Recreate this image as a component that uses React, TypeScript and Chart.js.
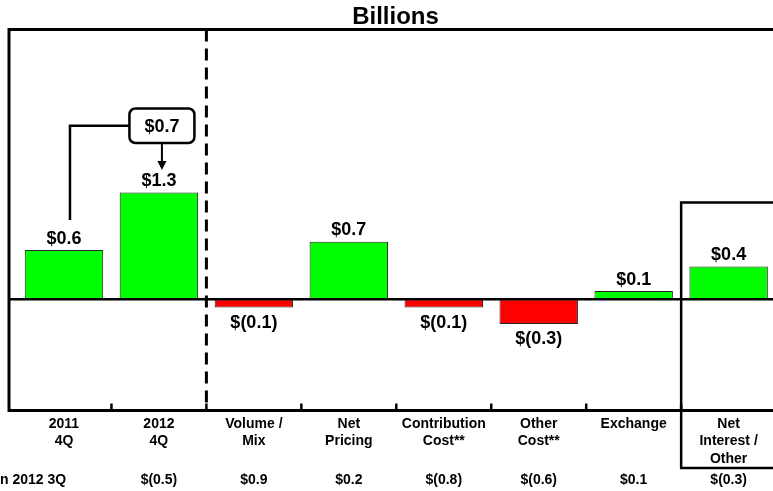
import React, { useEffect, useRef } from "react";
import { Chart, registerables } from "chart.js";

Chart.register(...registerables);

const categories: string[][] = [
  ["2011", "4Q"],
  ["2012", "4Q"],
  ["Volume /", "Mix"],
  ["Net", "Pricing"],
  ["Contribution", "Cost**"],
  ["Other", "Cost**"],
  ["Exchange"],
  ["Net", "Interest /", "Other"],
];
const values: number[] = [0.6, 1.3, -0.1, 0.7, -0.1, -0.3, 0.1, 0.4];
const changeVs3Q: string[] = ["", "$(0.5)", "$0.9", "$0.2", "$(0.8)", "$(0.6)", "$0.1", "$(0.3)"];
const rowLabel = "n 2012 3Q";
const titleText = "Billions";

const FONT = '"Liberation Sans", Arial, sans-serif';

function fmt(v: number): string {
  const a = Math.abs(v).toFixed(1);
  return v < 0 ? `$(${a})` : `$${a}`;
}

const overlay = {
  id: "overlay",
  afterDatasetsDraw(chart: any) {
    const { ctx, chartArea, scales } = chart;
    const xs = scales.x;
    const ys = scales.y;
    const W = chart.width;
    const n = categories.length;
    const step = xs.getPixelForValue(1) - xs.getPixelForValue(0);
    const boundary = (i: number) => xs.getPixelForValue(i) + step / 2;
    const zeroY = ys.getPixelForValue(0);
    const top = chartArea.top;
    const bottom = chartArea.bottom;
    const leftX = 9;

    ctx.save();
    ctx.strokeStyle = "#000";
    ctx.fillStyle = "#000";
    ctx.lineCap = "butt";

    // title
    ctx.font = `bold 24px ${FONT}`;
    ctx.textAlign = "center";
    ctx.textBaseline = "alphabetic";
    ctx.fillText(titleText, 395.5, 24);

    // plot frame
    ctx.lineWidth = 3;
    ctx.beginPath();
    ctx.moveTo(W, top);
    ctx.lineTo(leftX, top);
    ctx.lineTo(leftX, bottom);
    ctx.lineTo(W, bottom);
    ctx.stroke();

    // zero line
    ctx.lineWidth = 2.5;
    ctx.beginPath();
    ctx.moveTo(leftX, zeroY);
    ctx.lineTo(W, zeroY);
    ctx.stroke();

    // ticks on bottom axis
    ctx.lineWidth = 2.5;
    for (let i = 0; i < n - 1; i++) {
      const bx = boundary(i);
      ctx.beginPath();
      ctx.moveTo(bx, bottom - 7);
      ctx.lineTo(bx, bottom);
      ctx.stroke();
    }

    // dashed separator
    ctx.lineWidth = 3;
    ctx.setLineDash([12, 7]);
    ctx.beginPath();
    ctx.moveTo(boundary(1), top);
    ctx.lineTo(boundary(1), bottom);
    ctx.stroke();
    ctx.setLineDash([]);

    // box around last category
    const bx7 = boundary(n - 2);
    ctx.lineWidth = 2.5;
    ctx.beginPath();
    ctx.moveTo(W, 202.5);
    ctx.lineTo(bx7, 202.5);
    ctx.lineTo(bx7, 468);
    ctx.lineTo(W, 468);
    ctx.stroke();

    // value labels
    ctx.font = `bold 18px ${FONT}`;
    ctx.textAlign = "center";
    ctx.textBaseline = "middle";
    values.forEach((v, i) => {
      const cx = xs.getPixelForValue(i);
      const py = ys.getPixelForValue(v);
      if (v >= 0) ctx.fillText(fmt(v), cx, py - 11.5);
      else ctx.fillText(fmt(v), cx, py + 15);
    });

    // callout from 2011 4Q to 2012 4Q
    const c0 = xs.getPixelForValue(0);
    const c1 = xs.getPixelForValue(1);
    const lineX = c0 + 6;
    const boxL = c1 - 29.5;
    const boxR = c1 + 35.5;
    const boxT = 108.5;
    const boxB = 143;
    const midY = (boxT + boxB) / 2;
    ctx.lineWidth = 2.5;
    ctx.beginPath();
    ctx.moveTo(lineX, ys.getPixelForValue(values[0]) - 30);
    ctx.lineTo(lineX, midY);
    ctx.lineTo(boxL, midY);
    ctx.stroke();
    ctx.beginPath();
    (ctx as any).roundRect(boxL, boxT, boxR - boxL, boxB - boxT, 6);
    ctx.fillStyle = "#fff";
    ctx.fill();
    ctx.stroke();
    ctx.fillStyle = "#000";
    ctx.fillText(fmt(values[1] - values[0]), (boxL + boxR) / 2, midY + 1);
    const ax = (boxL + boxR) / 2;
    ctx.lineWidth = 2;
    ctx.beginPath();
    ctx.moveTo(ax, boxB);
    ctx.lineTo(ax, 163);
    ctx.stroke();
    ctx.beginPath();
    ctx.moveTo(ax - 4.5, 161);
    ctx.lineTo(ax + 4.5, 161);
    ctx.lineTo(ax, 170);
    ctx.closePath();
    ctx.fill();

    // category labels
    ctx.font = `bold 14px ${FONT}`;
    categories.forEach((lines, i) => {
      const cx = xs.getPixelForValue(i);
      lines.forEach((t, j) => ctx.fillText(t, cx, 424 + j * 17.5));
    });

    // bottom row
    changeVs3Q.forEach((t, i) => {
      if (!t) return;
      ctx.fillText(t, xs.getPixelForValue(i), 480);
    });
    ctx.textAlign = "left";
    ctx.fillText(rowLabel, 0, 480);

    ctx.restore();
  },
};

export default function App() {
  const ref = useRef<HTMLCanvasElement | null>(null);
  useEffect(() => {
    if (!ref.current) return;
    const chart = new Chart(ref.current, {
      type: "bar",
      data: {
        labels: categories.map((c) => c.join(" ")),
        datasets: [
          {
            data: values,
            backgroundColor: values.map((v) => (v >= 0 ? "#00ff00" : "#ff0000")),
            borderColor: "#222",
            borderWidth: 1,
            borderSkipped: false,
            barPercentage: 0.826,
            categoryPercentage: 1,
          },
        ],
      },
      options: {
        responsive: false,
        animation: false,
        devicePixelRatio: 1,
        layout: { padding: { top: 29.5, bottom: 80.5, left: 16.5, right: 13.9 } },
        plugins: { legend: { display: false }, tooltip: { enabled: false }, title: { display: false } },
        scales: {
          x: { type: "category", offset: true, display: false },
          y: { min: -1.354, max: 3.286, display: false },
        },
      },
      plugins: [overlay],
    });
    return () => chart.destroy();
  }, []);
  return (
    <div style={{ width: 773, height: 491, overflow: "hidden", background: "#fff" }}>
      <style>{`body{margin:0;background:#fff}`}</style>
      <canvas ref={ref} width={790} height={491} style={{ display: "block" }} />
    </div>
  );
}
